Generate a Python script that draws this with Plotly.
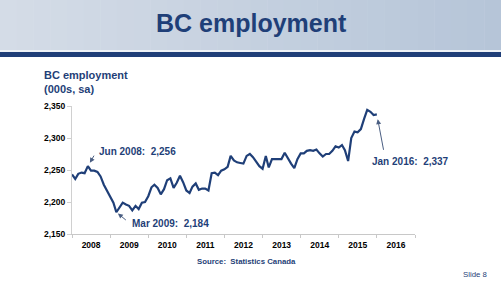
import plotly.graph_objects as go
import pandas as pd

# ---- data (000s, seasonally adjusted), monthly Jan 2008 .. Jan 2016 ----
emp_2008 = [2243, 2236, 2244, 2246, 2245, 2256, 2249, 2249, 2247, 2240, 2227, 2218]
emp_2009 = [2210, 2199, 2184, 2192, 2199, 2196, 2194, 2187, 2194, 2189, 2199, 2200]
emp_2010 = [2209, 2223, 2227, 2222, 2212, 2220, 2234, 2237, 2222, 2230, 2241, 2231]
emp_2011 = [2218, 2214, 2224, 2229, 2219, 2221, 2221, 2218, 2245, 2246, 2242, 2249]
emp_2012 = [2251, 2255, 2272, 2265, 2262, 2261, 2260, 2272, 2275, 2270, 2263, 2256]
emp_2013 = [2252, 2272, 2254, 2267, 2267, 2267, 2267, 2277, 2268, 2260, 2253, 2267]
emp_2014 = [2276, 2276, 2280, 2281, 2280, 2282, 2276, 2271, 2275, 2275, 2280, 2287]
emp_2015 = [2285, 2289, 2281, 2264, 2300, 2310, 2309, 2314, 2330, 2344, 2341, 2336]
emp_2016 = [2337]
employment = emp_2008 + emp_2009 + emp_2010 + emp_2011 + emp_2012 + emp_2013 + emp_2014 + emp_2015 + emp_2016
months = pd.date_range("2008-01-01", periods=len(employment), freq="MS")

y_ticks = [2150, 2200, 2250, 2300, 2350]
y_tick_text = ["2,150", "2,200", "2,250", "2,300", "2,350"]

NAVY = "#1F3F78"
W, H = 501, 282
ML, MR, MT, MB = 72, 86, 106, 48
PW, PH = W - ML - MR, H - MT - MB


def px_x(px):
    return (px - ML) / PW


def px_y(py):
    return (H - MB - py) / PH


fig = go.Figure()
fig.add_trace(go.Scatter(x=months, y=employment, mode="lines",
                         line=dict(color=NAVY, width=2.2), hoverinfo="skip"))

shapes = []
# banner gradient
n = 30
c0 = (0xD4, 0xDC, 0xE7)
c1 = (0xB6, 0xC5, 0xD8)
for i in range(n):
    t = i / (n - 1)
    col = "rgb(%d,%d,%d)" % tuple(round(a + (b - a) * t) for a, b in zip(c0, c1))
    shapes.append(dict(type="rect", xref="paper", yref="paper",
                       x0=px_x(i * W / n), x1=px_x((i + 1) * W / n + 0.5),
                       y0=px_y(50), y1=px_y(0), fillcolor=col, line=dict(width=0), layer="below"))
shapes.append(dict(type="rect", xref="paper", yref="paper", x0=px_x(0), x1=px_x(W),
                   y0=px_y(52), y1=px_y(50), fillcolor="#EEF2F7", line=dict(width=0), layer="below"))
shapes.append(dict(type="rect", xref="paper", yref="paper", x0=px_x(0), x1=px_x(W),
                   y0=px_y(57), y1=px_y(52), fillcolor="#1F3E78", line=dict(width=0), layer="below"))

ann = []
ann.append(dict(text="<b>BC employment</b>", xref="paper", yref="paper", x=px_x(251), y=px_y(23),
                showarrow=False, font=dict(size=25, color=NAVY, family="Liberation Sans, Arial"),
                xanchor="center", yanchor="middle"))
ann.append(dict(text="<b>BC employment</b>", xref="paper", yref="paper", x=px_x(42), y=px_y(75),
                showarrow=False, font=dict(size=11, color=NAVY), xanchor="left", yanchor="middle"))
ann.append(dict(text="<b>(000s, sa)</b>", xref="paper", yref="paper", x=px_x(42), y=px_y(89),
                showarrow=False, font=dict(size=11, color=NAVY), xanchor="left", yanchor="middle"))
ann.append(dict(text="<b>Source:  Statistics Canada</b>", xref="paper", yref="paper", x=px_x(195), y=px_y(261),
                showarrow=False, font=dict(size=7.8, color=NAVY), xanchor="left", yanchor="middle"))
ann.append(dict(text="Slide 8", xref="paper", yref="paper", x=px_x(461), y=px_y(274),
                showarrow=False, font=dict(size=7.8, color=NAVY), xanchor="left", yanchor="middle"))

# data callouts
ann.append(dict(text="<b>Jun 2008:  2,256</b>", xref="paper", yref="paper", x=px_x(97), y=px_y(151),
                showarrow=False, font=dict(size=10, color=NAVY), xanchor="left", yanchor="middle"))
ann.append(dict(text="<b>Mar 2009:  2,184</b>", xref="paper", yref="paper", x=px_x(130), y=px_y(223.5),
                showarrow=False, font=dict(size=10, color=NAVY), xanchor="left", yanchor="middle"))
ann.append(dict(text="<b>Jan 2016:  2,337</b>", xref="paper", yref="paper", x=px_x(370), y=px_y(161),
                showarrow=False, font=dict(size=10, color=NAVY), xanchor="left", yanchor="middle"))

arrow_style = dict(showarrow=True, arrowhead=2, arrowsize=1, arrowwidth=1, arrowcolor="#4A5E82", text="")
ann.append(dict(x=months[5], y=employment[5], ax=7, ay=-12, standoff=4, **arrow_style))
ann.append(dict(x=months[14], y=employment[14], ax=11, ay=9, standoff=2, **arrow_style))
ann.append(dict(x=months[96], y=employment[96], ax=7, ay=37, standoff=5, **arrow_style))

fig.update_layout(
    width=W, height=H,
    margin=dict(l=ML, r=MR, t=MT, b=MB, pad=0),
    paper_bgcolor="white", plot_bgcolor="white",
    showlegend=False,
    font=dict(family="Liberation Sans, Arial", color="black"),
    shapes=shapes, annotations=ann,
    xaxis=dict(type="date", range=["2008-01-01", "2017-01-01"], dtick="M12", tick0="2008-01-01",
               ticklabelmode="period", tickformat="%Y", showgrid=False, zeroline=False,
               showline=True, linecolor="#C8C8C8", linewidth=1,
               ticks="outside", ticklen=3, tickcolor="#C8C8C8",
               tickfont=dict(size=8.5, color="black", family="Liberation Sans, Arial"),
               fixedrange=True),
    yaxis=dict(range=[2150, 2350], tickvals=y_ticks, ticktext=["<b>%s</b>" % t for t in y_tick_text],
               showgrid=False, zeroline=False, showline=True, linecolor="#D0D0D0", linewidth=1,
               ticks="outside", ticklen=4, tickcolor="#D0D0D0",
               tickfont=dict(size=8.5, color="black"), fixedrange=True),
)
fig.update_xaxes(tickprefix="<b>", ticksuffix="</b>")

fig.write_html("out.html")
